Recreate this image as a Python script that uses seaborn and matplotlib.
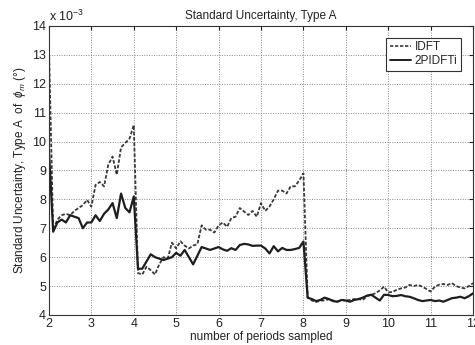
import numpy as np
import pandas as pd
import matplotlib
matplotlib.use("Agg")
import matplotlib.pyplot as plt
from matplotlib.lines import Line2D
import seaborn as sns

# number of periods sampled (step 0.1)
periods = np.round(np.arange(2.0, 12.0001, 0.1), 1)

# standard uncertainty, type A, of phi_m, in units of 1e-3 degrees
idft = [
    13.3, 6.95, 7.3, 7.45, 7.5, 7.45, 7.6, 7.7, 7.8, 7.98, 7.75,
    8.5, 8.6, 8.45, 9.2, 9.48, 8.85, 9.8, 9.95, 10.1, 10.57,
    5.45, 5.4, 5.67, 5.55, 5.4, 5.75, 6.0, 5.95, 6.5, 6.3,
    6.55, 6.4, 6.3, 6.4, 6.45, 7.1, 6.95, 6.95, 6.85, 7.1,
    7.2, 7.05, 7.35, 7.4, 7.7, 7.58, 7.46, 7.6, 7.4, 7.87,
    7.6, 7.75, 8.0, 8.3, 8.3, 8.2, 8.45, 8.45, 8.65, 8.9,
    4.6, 4.5, 4.45, 4.5, 4.5, 4.55, 4.5, 4.46, 4.52, 4.5,
    4.52, 4.55, 4.55, 4.52, 4.65, 4.7, 4.75, 4.85, 4.98, 4.78,
    4.8, 4.87, 4.92, 4.95, 5.04, 5.0, 5.04, 4.98, 4.9, 4.81,
    4.98, 5.05, 5.07, 5.04, 5.1, 5.0, 4.95, 4.92, 5.0, 5.1,
]
pidfti = [
    9.7, 6.88, 7.2, 7.3, 7.2, 7.45, 7.4, 7.35, 7.0, 7.2, 7.2,
    7.45, 7.25, 7.5, 7.65, 7.87, 7.35, 8.2, 7.7, 7.55, 8.1,
    5.6, 5.6, 5.85, 6.1, 6.0, 5.95, 5.9, 5.95, 6.0, 6.15,
    6.05, 6.25, 6.0, 5.75, 6.05, 6.35, 6.3, 6.25, 6.3, 6.35,
    6.27, 6.22, 6.31, 6.25, 6.42, 6.46, 6.44, 6.39, 6.4, 6.4,
    6.3, 6.13, 6.38, 6.2, 6.32, 6.25, 6.25, 6.28, 6.32, 6.54,
    4.6, 4.55, 4.48, 4.52, 4.6, 4.55, 4.48, 4.46, 4.52, 4.5,
    4.46, 4.52, 4.55, 4.6, 4.67, 4.7, 4.6, 4.5, 4.7, 4.69,
    4.65, 4.66, 4.69, 4.65, 4.63, 4.58, 4.52, 4.48, 4.5, 4.52,
    4.48, 4.5, 4.46, 4.52, 4.58, 4.6, 4.63, 4.58, 4.65, 4.75,
]

x_ticks = [2, 3, 4, 5, 6, 7, 8, 9, 10, 11, 12]
y_ticks = [4, 5, 6, 7, 8, 9, 10, 11, 12, 13, 14]

df = pd.DataFrame({
    "periods": np.concatenate([periods, periods]),
    "u": np.concatenate([idft, pidfti]),
    "method": ["IDFT"] * len(periods) + ["2PIDFTi"] * len(periods),
})

sns.set_style("white")
plt.rcParams["font.family"] = ["Liberation Sans", "DejaVu Sans"]
plt.rcParams["mathtext.fontset"] = "custom"
plt.rcParams["mathtext.rm"] = "Liberation Sans"
plt.rcParams["mathtext.it"] = "Liberation Sans:italic"

fig = plt.figure(figsize=(4.75, 3.45), dpi=100)
ax = fig.add_axes([0.103, 0.087, 0.893, 0.838])

sns.lineplot(
    data=df, x="periods", y="u", hue="method", style="method",
    palette={"IDFT": "#3a3a3a", "2PIDFTi": "#1e1e1e"},
    dashes={"IDFT": (2, 1), "2PIDFTi": ""},
    ax=ax, legend=False,
)
for line, lw in zip(ax.get_lines(), [1.3, 1.6]):
    line.set_linewidth(lw)

ax.set_xlim(2, 12)
ax.set_ylim(4, 14)
ax.set_xticks(x_ticks)
ax.set_yticks(y_ticks)
ax.tick_params(direction="in", length=3, labelsize=9, top=True, right=True,
               pad=2, colors="#222222")
ax.grid(True, linestyle=(0, (1, 1.5)), color="#888888", linewidth=0.7)
for sp in ax.spines.values():
    sp.set_color("#333333")
    sp.set_linewidth(0.8)

ax.set_title("Standard Uncertainty, Type A", fontsize=8.5, pad=5, color="#222222")
ax.set_xlabel("number of periods sampled", fontsize=8.5, labelpad=1, color="#222222")
ax.set_ylabel(r"Standard Uncertainty, Type A  of  $\phi_m$ (°)", fontsize=8.5,
              labelpad=3, color="#222222")
ax.text(0.0, 1.005, r"x 10$^{-3}$", transform=ax.transAxes, fontsize=9,
        ha="left", va="bottom", color="#222222")

handles = [
    Line2D([], [], color="#3a3a3a", linestyle=(0, (2, 1)), linewidth=1.2),
    Line2D([], [], color="#1e1e1e", linestyle="-", linewidth=1.4),
]
leg = ax.legend(handles, ["IDFT", "2PIDFTi"], loc="upper right",
                bbox_to_anchor=(0.985, 0.98), fontsize=8.5, handlelength=1.8,
                handletextpad=0.3, borderpad=0.3, labelspacing=0.2,
                fancybox=False, framealpha=1, edgecolor="#333333")
leg.get_frame().set_linewidth(0.8)

fig.savefig("out.png", dpi=100)
